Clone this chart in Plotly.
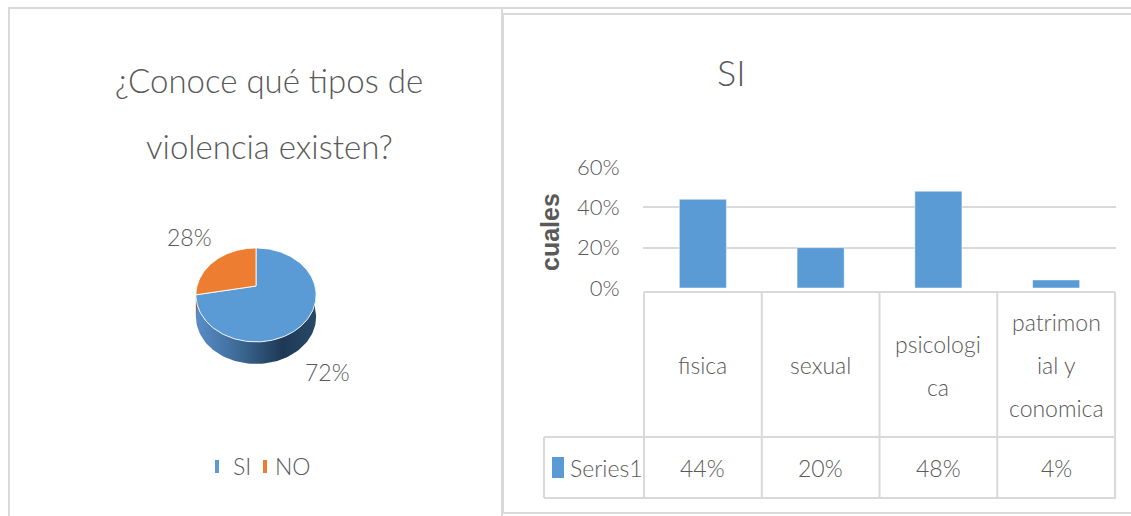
import numpy as np
import plotly.graph_objects as go

W, H = 1131, 516
FONT = "Lato, Liberation Sans, sans-serif"
TXT = "#595959"
GRID = "#d9d9d9"

# pie: ¿Conoce qué tipos de violencia existen?
pie_title = ["¿Conoce qué tipos de", "violencia existen?"]
pie_labels = ["SI", "NO"]
pie_values = [72, 28]
pie_colors = ["#5b9bd5", "#ed7d31"]
pie_side_scales = [
    [[0, "#5a8dc8"], [0.3, "#41709f"], [0.72, "#1e3956"], [1, "#284868"]],
    [[0, "#d06a26"], [1, "#8a4418"]],
]

# bars: SI / cuales
bar_title = "SI"
bar_axis_title = "cuales"
categories = ["fisica", "sexual", "psicologica", "patrimonial y conomica"]
category_labels = ["fisica", "sexual", "psicologi<br>ca", "patrimon<br>ial y<br>conomica"]
series_name = "Series1"
values = [0.44, 0.20, 0.48, 0.04]
y_ticks = [0, 0.2, 0.4, 0.6]
bar_color = "#5b9bd5"


def px(x):
    return x / W


def py(y):
    return 1 - y / H


# 3D pie geometry (pixels of the left panel)
CX, CY, RX, RY, K, DEPTH = 256, 286, 59, 45.3, 0.19, 22


def proj(phi):
    p = np.radians(phi)
    v = np.sin(p)
    s = 1 + K * v
    return CX + RX * np.cos(p) / s, CY - RY * v / s


fig = go.Figure()

total = float(sum(pie_values))
bounds = []
cum = 0.0
for v in pie_values:
    start = 90 - 360 * cum / total
    cum += v
    end = 90 - 360 * cum / total
    bounds.append((end, start))

# side walls (front half only)
for (a, b), scale in zip(bounds, pie_side_scales):
    for k in range(-2, 2):
        lo, hi = max(a, 180 + 360 * k), min(b, 360 + 360 * k)
        if hi - lo <= 0.01:
            continue
        phi = np.linspace(lo, hi, 80)
        xt, yt = proj(phi)
        xs = np.concatenate([xt, xt[::-1]])
        ys = np.concatenate([yt, (yt + DEPTH)[::-1]])
        fig.add_trace(go.Scatter(
            x=xs, y=ys, mode="lines", fill="toself", line=dict(width=0),
            fillgradient=dict(type="horizontal", colorscale=scale),
            xaxis="x2", yaxis="y2", hoverinfo="skip", showlegend=False))

# top faces
for (a, b), color, lab in zip(bounds, pie_colors, pie_labels):
    phi = np.linspace(b, a, 200)
    xt, yt = proj(phi)
    xs = np.concatenate([[CX], xt, [CX]])
    ys = np.concatenate([[CY], yt, [CY]])
    fig.add_trace(go.Scatter(
        x=xs, y=ys, mode="lines", fill="toself", fillcolor=color,
        line=dict(color="rgba(255,255,255,0.85)", width=1),
        xaxis="x2", yaxis="y2", name=lab, hoverinfo="skip", showlegend=False))

# bars
fig.add_trace(go.Bar(x=categories, y=values, marker_color=bar_color,
                     name=series_name, showlegend=False, xaxis="x", yaxis="y"))

fig.update_layout(
    width=W, height=H, autosize=False,
    margin=dict(l=0, r=0, t=0, b=0, pad=0, autoexpand=False),
    template="simple_white",
    showlegend=False,
    paper_bgcolor="white", plot_bgcolor="rgba(0,0,0,0)",
    font=dict(family=FONT, color=TXT),
    bargap=0.6,
    xaxis=dict(domain=[px(643), px(1116)], showticklabels=False, ticks="",
               showline=False, showgrid=False, zeroline=False, automargin=False),
    yaxis=dict(domain=[py(288), py(167)], range=[0, 0.6], tickvals=y_ticks,
               tickformat=".0%", showgrid=True, gridcolor=GRID, gridwidth=2,
               showline=False, zeroline=False, ticks="outside", ticklen=18,
               tickcolor="rgba(0,0,0,0)", automargin=False,
               tickfont=dict(size=22, color=TXT, family=FONT, weight=300)),
    xaxis2=dict(domain=[0, px(502)], range=[0, 502], visible=False, automargin=False),
    yaxis2=dict(domain=[0, 1], range=[H, 0], visible=False, anchor="x2", automargin=False),
)

shapes = []
ln = dict(color=GRID, width=2)
NOFILL = "rgba(0,0,0,0)"


def shp(**kw):
    d = dict(xref="paper", yref="paper", opacity=1, fillcolor=NOFILL, line=ln, layer="above")
    d.update(kw)
    shapes.append(d)


# panel frames
shp(type="rect", x0=px(9), x1=px(502), y0=py(8), y1=py(530))
shp(type="line", x0=px(502), x1=1.01, y0=py(8), y1=py(8))
shp(type="rect", x0=px(503), x1=1.02, y0=py(14), y1=py(513))

# data table under the bars
n = len(categories)
for i in range(n + 1):
    shp(type="line", xref="x", x0=i - 0.5, x1=i - 0.5, y0=py(292), y1=py(498))
shp(type="line", xref="x", x0=-0.5, x1=n - 0.5, y0=py(292), y1=py(292))
for yy in (437, 498):
    shp(type="line", x0=px(544), x1=px(1116), y0=py(yy), y1=py(yy))
shp(type="line", x0=px(544), x1=px(544), y0=py(437), y1=py(498))
# legend keys
shp(type="rect", x0=px(552), x1=px(564), y0=py(457), y1=py(478),
    fillcolor=bar_color, line=dict(width=0))
key_x = [215, 263]
for kx, color in zip(key_x, pie_colors):
    shp(type="rect", x0=px(kx), x1=px(kx + 4), y0=py(460), y1=py(473),
        fillcolor=color, line=dict(width=0))

ann = []


def text(x, y, s, size, xref="paper", weight=300, family=FONT, **kw):
    d = dict(x=px(x) if xref == "paper" else x, y=py(y), xref=xref, yref="paper",
             text=s, showarrow=False, xanchor="center", yanchor="middle",
             font=dict(size=size, color=TXT, family=family, weight=weight))
    d.update(kw)
    ann.append(d)


text(269, 80, pie_title[0], 33)
text(269, 146, pie_title[1], 33)
text(731, 72, bar_title, 36)
text(550, 232, bar_axis_title, 25, weight=700, textangle=-90,
     family="Liberation Sans, Arial, sans-serif")

# pie labels
pie_label_pos = [(328, 372), (190, 237)]
for (lx, ly), v in zip(pie_label_pos, pie_values):
    text(lx, ly, f"{v}%", 23)

# pie legend
legend_text_x = [231, 273]
for tx, lab in zip(legend_text_x, pie_labels):
    text(tx, 466, lab, 23, xanchor="left")

# table text
for cat, lab, v in zip(categories, category_labels, values):
    lines = lab.split("<br>")
    for j, line in enumerate(lines):
        yy = 365 + (j - (len(lines) - 1) / 2) * 43
        text(cat, yy, line, 23, xref="x")
    text(cat, 468, f"{v:.0%}", 23, xref="x")
text(568, 468, series_name, 23, xanchor="left")

fig.update_layout(shapes=shapes, annotations=ann)
fig.write_html("out.html", config={"displayModeBar": False},
               post_script="document.body.style.margin='0';")
